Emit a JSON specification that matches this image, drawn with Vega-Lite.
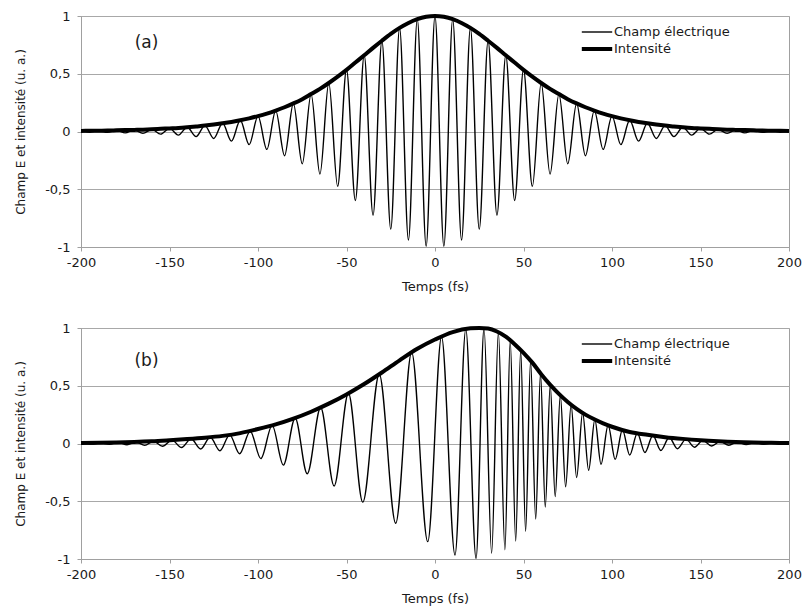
{
  "$schema": "https://vega.github.io/schema/vega-lite/v6.json",
  "background": "white",
  "padding": {"left": 14, "top": 7, "right": 12, "bottom": 4},
  "spacing": 25,
  "datasets": {
    "aE": [
      {"t":-200,"v":0.005},{"t":-195,"v":-0.006},{"t":-190,"v":0.007},{"t":-185,"v":-0.008},{"t":-180,"v":0.010},{"t":-175,"v":-0.012},{"t":-170,"v":0.014},{"t":-165,"v":-0.016},{"t":-160,"v":0.019},{"t":-155,"v":-0.023},{"t":-150,"v":0.027},{"t":-145,"v":-0.031},{"t":-140,"v":0.037},{"t":-135,"v":-0.044},{"t":-130,"v":0.051},{"t":-125,"v":-0.060},{"t":-120,"v":0.071},{"t":-115,"v":-0.083},{"t":-110,"v":0.097},{"t":-105,"v":-0.114},{"t":-100,"v":0.133},{"t":-95,"v":-0.155},{"t":-90,"v":0.181},{"t":-85,"v":-0.210},{"t":-80,"v":0.243},{"t":-75,"v":-0.280},{"t":-70,"v":0.324},{"t":-65,"v":-0.369},{"t":-60,"v":0.420},{"t":-55,"v":-0.475},{"t":-50,"v":0.534},{"t":-45,"v":-0.597},{"t":-40,"v":0.660},{"t":-35,"v":-0.724},{"t":-30,"v":0.786},{"t":-25,"v":-0.845},{"t":-20,"v":0.897},{"t":-15,"v":-0.940},{"t":-10,"v":0.973},{"t":-5,"v":-0.993},
      {"t":0,"v":1.0},
      {"t":5,"v":-0.993},{"t":10,"v":0.973},{"t":15,"v":-0.940},{"t":20,"v":0.897},{"t":25,"v":-0.845},{"t":30,"v":0.786},{"t":35,"v":-0.724},{"t":40,"v":0.660},{"t":45,"v":-0.597},{"t":50,"v":0.534},{"t":55,"v":-0.475},{"t":60,"v":0.420},{"t":65,"v":-0.369},{"t":70,"v":0.324},{"t":75,"v":-0.280},{"t":80,"v":0.243},{"t":85,"v":-0.210},{"t":90,"v":0.181},{"t":95,"v":-0.155},{"t":100,"v":0.133},{"t":105,"v":-0.114},{"t":110,"v":0.097},{"t":115,"v":-0.083},{"t":120,"v":0.071},{"t":125,"v":-0.060},{"t":130,"v":0.051},{"t":135,"v":-0.044},{"t":140,"v":0.037},{"t":145,"v":-0.031},{"t":150,"v":0.027},{"t":155,"v":-0.023},{"t":160,"v":0.019},{"t":165,"v":-0.016},{"t":170,"v":0.014},{"t":175,"v":-0.012},{"t":180,"v":0.010},{"t":185,"v":-0.008},{"t":190,"v":0.007},{"t":195,"v":-0.006},{"t":200,"v":0.005}
    ],
    "aI": [
      {"t":-200,"v":0.005},{"t":-195,"v":0.006},{"t":-190,"v":0.007},{"t":-185,"v":0.008},{"t":-180,"v":0.010},{"t":-175,"v":0.012},{"t":-170,"v":0.014},{"t":-165,"v":0.016},{"t":-160,"v":0.019},{"t":-155,"v":0.023},{"t":-150,"v":0.027},{"t":-145,"v":0.031},{"t":-140,"v":0.037},{"t":-135,"v":0.044},{"t":-130,"v":0.051},{"t":-125,"v":0.060},{"t":-120,"v":0.071},{"t":-115,"v":0.083},{"t":-110,"v":0.097},{"t":-105,"v":0.114},{"t":-100,"v":0.133},{"t":-95,"v":0.155},{"t":-90,"v":0.181},{"t":-85,"v":0.210},{"t":-80,"v":0.243},{"t":-75,"v":0.280},{"t":-70,"v":0.324},{"t":-65,"v":0.369},{"t":-60,"v":0.420},{"t":-55,"v":0.475},{"t":-50,"v":0.534},{"t":-45,"v":0.597},{"t":-40,"v":0.660},{"t":-35,"v":0.724},{"t":-30,"v":0.786},{"t":-25,"v":0.845},{"t":-20,"v":0.897},{"t":-15,"v":0.940},{"t":-10,"v":0.973},{"t":-5,"v":0.993},
      {"t":0,"v":1.0},
      {"t":5,"v":0.993},{"t":10,"v":0.973},{"t":15,"v":0.940},{"t":20,"v":0.897},{"t":25,"v":0.845},{"t":30,"v":0.786},{"t":35,"v":0.724},{"t":40,"v":0.660},{"t":45,"v":0.597},{"t":50,"v":0.534},{"t":55,"v":0.475},{"t":60,"v":0.420},{"t":65,"v":0.369},{"t":70,"v":0.324},{"t":75,"v":0.280},{"t":80,"v":0.243},{"t":85,"v":0.210},{"t":90,"v":0.181},{"t":95,"v":0.155},{"t":100,"v":0.133},{"t":105,"v":0.114},{"t":110,"v":0.097},{"t":115,"v":0.083},{"t":120,"v":0.071},{"t":125,"v":0.060},{"t":130,"v":0.051},{"t":135,"v":0.044},{"t":140,"v":0.037},{"t":145,"v":0.031},{"t":150,"v":0.027},{"t":155,"v":0.023},{"t":160,"v":0.019},{"t":165,"v":0.016},{"t":170,"v":0.014},{"t":175,"v":0.012},{"t":180,"v":0.010},{"t":185,"v":0.008},{"t":190,"v":0.007},{"t":195,"v":0.006},{"t":200,"v":0.005}
    ],
    "bE": [
      {"t":-200,"v":0.003},{"t":-199,"v":0.004},{"t":-194,"v":-0.005},{"t":-189,"v":0.006},{"t":-184,"v":-0.007},{"t":-179,"v":0.009},{"t":-174,"v":-0.011},{"t":-169,"v":0.013},{"t":-164,"v":-0.016},{"t":-159,"v":0.020},{"t":-154,"v":-0.024},{"t":-148.6,"v":0.029},{"t":-143.2,"v":-0.035},{"t":-137.8,"v":0.041},{"t":-132.4,"v":-0.047},{"t":-127,"v":0.054},{"t":-121.5,"v":-0.063},{"t":-116,"v":0.075},{"t":-110.4,"v":-0.089},{"t":-104.4,"v":0.106},{"t":-98.4,"v":-0.131},{"t":-92,"v":0.157},{"t":-85.7,"v":-0.187},{"t":-79,"v":0.22},{"t":-72.2,"v":-0.262},{"t":-64.6,"v":0.312},{"t":-57,"v":-0.368},{"t":-48.9,"v":0.435},{"t":-40.8,"v":-0.508},{"t":-31.5,"v":0.60},{"t":-22.2,"v":-0.69},{"t":-13.2,"v":0.79},{"t":-4.1,"v":-0.85},{"t":3.7,"v":0.924},{"t":11.3,"v":-0.965},{"t":17.4,"v":0.99},{"t":23.2,"v":-0.995},{"t":27.7,"v":0.998},{"t":32,"v":-0.95},{"t":35.8,"v":0.963},{"t":39.5,"v":-0.92},{"t":42.5,"v":0.893},{"t":45.6,"v":-0.845},{"t":48.4,"v":0.81},{"t":51.2,"v":-0.76},{"t":54,"v":0.717},{"t":56.9,"v":-0.655},{"t":59.6,"v":0.608},{"t":62.3,"v":-0.55},{"t":65.1,"v":0.508},{"t":67.9,"v":-0.46},{"t":70.8,"v":0.419},{"t":73.8,"v":-0.375},{"t":76.9,"v":0.337},{"t":80,"v":-0.295},{"t":83.4,"v":0.266},{"t":86.8,"v":-0.232},{"t":90.3,"v":0.208},{"t":93.8,"v":-0.18},{"t":97.8,"v":0.158},{"t":101.8,"v":-0.137},{"t":105.9,"v":0.119},{"t":110,"v":-0.10},{"t":114.3,"v":0.089},{"t":118.6,"v":-0.078},{"t":123.1,"v":0.069},{"t":127.6,"v":-0.06},{"t":132.3,"v":0.052},{"t":137,"v":-0.045},{"t":141.8,"v":0.038},{"t":146.6,"v":-0.032},{"t":151.4,"v":0.027},{"t":156.3,"v":-0.022},{"t":161.1,"v":0.018},{"t":166,"v":-0.015},{"t":170.9,"v":0.012},{"t":175.8,"v":-0.010},{"t":180.7,"v":0.008},{"t":185.6,"v":-0.007},{"t":190.5,"v":0.006},{"t":195.5,"v":-0.005},{"t":200,"v":0.004}
    ],
    "bI": [
      {"t":-200,"v":0.004},{"t":-190,"v":0.006},{"t":-180,"v":0.009},{"t":-170,"v":0.013},{"t":-160,"v":0.019},{"t":-150,"v":0.028},{"t":-140,"v":0.038},{"t":-130,"v":0.05},{"t":-120,"v":0.066},{"t":-110,"v":0.09},{"t":-100,"v":0.125},{"t":-90,"v":0.165},{"t":-80,"v":0.215},{"t":-70,"v":0.275},{"t":-60,"v":0.345},{"t":-50,"v":0.425},{"t":-40,"v":0.515},{"t":-30,"v":0.615},{"t":-20,"v":0.72},{"t":-10,"v":0.82},{"t":0,"v":0.90},{"t":10,"v":0.965},{"t":20,"v":0.997},{"t":25,"v":1.0},{"t":30,"v":0.995},{"t":35,"v":0.97},{"t":40,"v":0.925},{"t":45,"v":0.86},{"t":50,"v":0.785},{"t":55,"v":0.70},{"t":60,"v":0.60},{"t":65,"v":0.51},{"t":70,"v":0.43},{"t":75,"v":0.36},{"t":80,"v":0.30},{"t":85,"v":0.25},{"t":90,"v":0.21},{"t":95,"v":0.175},{"t":100,"v":0.145},{"t":110,"v":0.10},{"t":120,"v":0.075},{"t":130,"v":0.055},{"t":140,"v":0.04},{"t":150,"v":0.028},{"t":160,"v":0.019},{"t":170,"v":0.012},{"t":180,"v":0.008},{"t":190,"v":0.006},{"t":200,"v":0.004}
    ]
  },
  "config": {
    "font": "DejaVu Sans",
    "view": {"stroke": "#a0a0a0", "strokeWidth": 1},
    "axis": {
      "labelFont": "DejaVu Sans", "titleFont": "DejaVu Sans",
      "labelColor": "#1a1a1a", "titleColor": "#1a1a1a",
      "titleFontWeight": "normal",
      "domainColor": "#a0a0a0", "tickColor": "#a0a0a0", "gridColor": "#a8a8a8", "gridOpacity": 1
    },
    "legend": {
      "orient": "none", "legendX": 506, "legendY": 7,
      "symbolType": "M-1.9,0H1.9", "symbolSize": 256, "symbolStrokeColor": "black", "symbolFillColor": "transparent",
      "labelFont": "DejaVu Sans", "labelFontSize": 13, "labelColor": "#1a1a1a",
      "labelOffset": 7, "rowPadding": 0, "padding": 0
    }
  },
  "resolve": {"scale": {"strokeWidth": "independent"}, "legend": {"strokeWidth": "independent"}},
  "vconcat": [
    {
      "width": 708, "height": 231,
      "layer": [
        {
          "data": {"name": "aE"},
          "mark": {"type": "line", "color": "black", "interpolate": "monotone"},
          "encoding": {
            "x": {"field": "t", "type": "quantitative", "scale": {"domain": [-200, 200], "nice": false},
              "axis": {"values": [-200,-150,-100,-50,0,50,100,150,200], "grid": false, "tickSize": 4, "labelPadding": 5, "labelFontSize": 13, "labelFlush": false,
                "title": "Temps (fs)", "titleFontSize": 13, "titlePadding": 11,
                "labelExpr": "replace(datum.label, '\u2212', '-')"}},
            "y": {"field": "v", "type": "quantitative", "scale": {"domain": [-1, 1], "nice": false},
              "axis": {"values": [-1,-0.5,0,0.5,1], "grid": true, "tickSize": 4, "labelPadding": 7, "labelFontSize": 13, "format": "~g",
                "title": "Champ E et intensité (u. a.)", "titleFontSize": 12, "titlePadding": 17,
                "labelExpr": "replace(replace(datum.label, '.', ','), '\u2212', '-')"}},
            "strokeWidth": {"datum": "Champ électrique", "type": "ordinal",
              "scale": {"domain": ["Champ électrique", "Intensité"], "range": [1.4, 4]},
              "legend": {"title": null}}
          }
        },
        {
          "data": {"name": "aI"},
          "mark": {"type": "line", "color": "black", "interpolate": "monotone"},
          "encoding": {
            "x": {"field": "t", "type": "quantitative"},
            "y": {"field": "v", "type": "quantitative"},
            "strokeWidth": {"datum": "Intensité", "type": "ordinal"}
          }
        },
        {
          "data": {"values": [{"t": -163, "v": 0.77, "txt": "(a)"}]},
          "mark": {"type": "text", "font": "DejaVu Sans", "fontSize": 17, "color": "#1a1a1a"},
          "encoding": {
            "x": {"field": "t", "type": "quantitative"},
            "y": {"field": "v", "type": "quantitative"},
            "text": {"field": "txt"}
          }
        }
      ]
    },
    {
      "width": 708, "height": 231,
      "layer": [
        {
          "data": {"name": "bE"},
          "mark": {"type": "line", "color": "black", "interpolate": "monotone"},
          "encoding": {
            "x": {"field": "t", "type": "quantitative", "scale": {"domain": [-200, 200], "nice": false},
              "axis": {"values": [-200,-150,-100,-50,0,50,100,150,200], "grid": false, "tickSize": 4, "labelPadding": 5, "labelFontSize": 13, "labelFlush": false,
                "title": "Temps (fs)", "titleFontSize": 13, "titlePadding": 11,
                "labelExpr": "replace(datum.label, '\u2212', '-')"}},
            "y": {"field": "v", "type": "quantitative", "scale": {"domain": [-1, 1], "nice": false},
              "axis": {"values": [-1,-0.5,0,0.5,1], "grid": true, "tickSize": 4, "labelPadding": 7, "labelFontSize": 13, "format": "~g",
                "title": "Champ E et intensité (u. a.)", "titleFontSize": 12, "titlePadding": 17,
                "labelExpr": "replace(replace(datum.label, '.', ','), '\u2212', '-')"}},
            "strokeWidth": {"datum": "Champ électrique", "type": "ordinal",
              "scale": {"domain": ["Champ électrique", "Intensité"], "range": [1.4, 4]},
              "legend": {"title": null}}
          }
        },
        {
          "data": {"name": "bI"},
          "mark": {"type": "line", "color": "black", "interpolate": "monotone"},
          "encoding": {
            "x": {"field": "t", "type": "quantitative"},
            "y": {"field": "v", "type": "quantitative"},
            "strokeWidth": {"datum": "Intensité", "type": "ordinal"}
          }
        },
        {
          "data": {"values": [{"t": -163, "v": 0.71, "txt": "(b)"}]},
          "mark": {"type": "text", "font": "DejaVu Sans", "fontSize": 17, "color": "#1a1a1a"},
          "encoding": {
            "x": {"field": "t", "type": "quantitative"},
            "y": {"field": "v", "type": "quantitative"},
            "text": {"field": "txt"}
          }
        }
      ]
    }
  ]
}
